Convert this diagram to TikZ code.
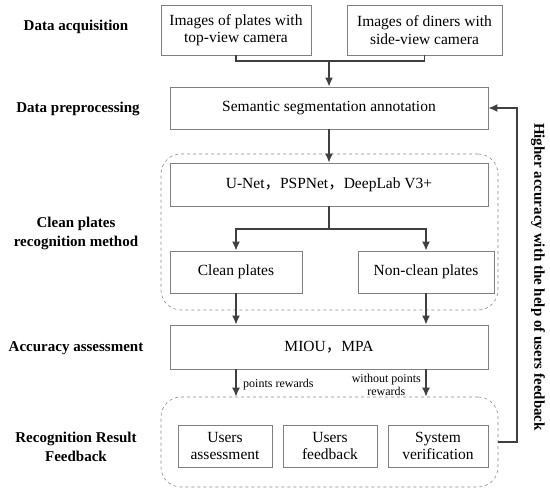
\documentclass[tikz,border=0pt]{standalone}
\usepackage{fontspec}
\setmainfont{Liberation Serif}
\newfontfamily\cjk{Noto Sans CJK SC}
\usetikzlibrary{arrows.meta}
\begin{document}
\begin{tikzpicture}[x=1pt, y=-1pt, font=\fontsize{15.5}{17.5}\selectfont,
  box/.style={draw=black!50, line width=0.8pt, inner sep=0pt, align=center},
  group/.style={draw=black!45, dashed, line width=0.6pt, rounded corners=20pt, inner sep=0pt},
  flow/.style={line width=1.5pt, draw=black!75, ->, >={Latex[length=9pt,width=8pt]}},
  link/.style={line width=1.5pt, draw=black!75},
  stage/.style={font=\fontsize{15}{19}\selectfont\bfseries, align=center},
  note/.style={font=\fontsize{12}{13}\selectfont, align=center, inner sep=0pt}]
\useasboundingbox (0,0) rectangle (550,495);

% stages on the left
\node[stage] (acq) at (76,27) {Data acquisition};
\node[stage] (pre) at (78,109) {Data preprocessing};
\node[stage] (rec) at (76,233) {Clean plates\\recognition method};
\node[stage] (ass) at (76,348) {Accuracy assessment};
\node[stage] (res) at (76,447) {Recognition Result\\Feedback};

% dashed groups
\node[group, minimum width=337, minimum height=156] (g1) at (329.5,232) {};
\node[group, minimum width=337, minimum height=90] (g2) at (329.5,442) {};

% boxes
\node[box, minimum width=150, minimum height=50] (top) at (236,30) {Images of plates with\\top-view camera};
\node[box, minimum width=155, minimum height=50] (side) at (424.5,30) {Images of diners with\\side-view camera};
\node[box, minimum width=318, minimum height=42] (seg) at (329,108) {Semantic segmentation annotation};
\node[box, minimum width=318, minimum height=43] (net) at (329,184.5) {U-Net{\cjk ，}PSPNet{\cjk ，}DeepLab V3+};
\node[box, minimum width=132, minimum height=42] (clean) at (236,272) {Clean plates};
\node[box, minimum width=136, minimum height=42] (dirty) at (426,272) {Non-clean plates};
\node[box, minimum width=318, minimum height=44] (acc) at (329,347) {MIOU{\cjk ，}MPA};
\foreach \name/\x/\w/\txt in {ua/225/94/Users\\assessment, uf/330/94/Users\\feedback, sv/438/100/System\\verification}{
\node[box, minimum width=\w, minimum height=42] (\name) at (\x,446) {\txt};
}

% connectors
\coordinate (join) at (329,61);
\coordinate (split) at (329,229);
\coordinate (turn) at (517,0);
\draw[link] (top.south) |- (join) -| (side.south);
\draw[flow] (join) -- (seg.north);
\draw[flow] (seg.south) -- (net.north);
\draw[link] (net.south) -- (split);
\draw[flow] (split) -| (clean.north);
\draw[flow] (split) -| (dirty.north);
\draw[flow] (clean.south) -- (clean.south |- acc.north);
\draw[flow] (dirty.south) -- (dirty.south |- acc.north);
\draw[flow] (acc.south -| clean) -- (g2.north -| clean);
\draw[flow] (acc.south -| dirty) -- (g2.north -| dirty);
\node[note, anchor=west] (pts) at (243,385) {points rewards};
\node[note, anchor=east] (nopts) at (421,385) {without points\\rewards};
\draw[flow] (g2.east) -- (g2.east -| turn) |- (seg.east);
\node[stage, rotate=-90] (fb) at (538,277) {Higher accuracy with the help of users feedback};
\end{tikzpicture}
\end{document}
